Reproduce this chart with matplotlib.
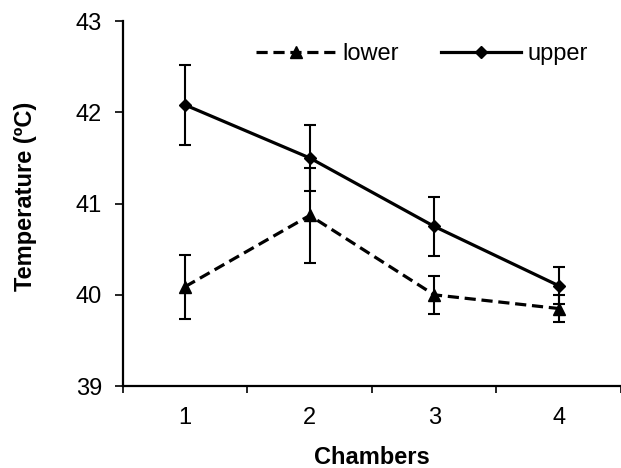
import matplotlib.pyplot as plt
from matplotlib.lines import Line2D
import numpy as np

plt.rcParams['font.family'] = ['Liberation Sans', 'DejaVu Sans']

chambers = [1, 2, 3, 4]
chamber_labels = ['1', '2', '3', '4']
lower = [40.09, 40.87, 40.00, 39.85]
lower_err = [0.35, 0.52, 0.21, 0.15]
upper = [42.08, 41.50, 40.75, 40.10]
upper_err = [0.44, 0.36, 0.32, 0.20]

size = 17
lw = 2.3
dash = (3.5, 1.8)
fig = plt.figure(figsize=(6.21, 4.68), dpi=100)
ax = fig.add_axes([0.198, 0.175, 0.802, 0.78])

ax.errorbar(chambers, lower, yerr=lower_err, color='black', linestyle='--',
            linewidth=lw, dashes=dash, marker='^', markersize=8.5,
            ecolor='black', elinewidth=1.5, capsize=4.5, capthick=1.5)
ax.errorbar(chambers, upper, yerr=upper_err, color='black', linestyle='-',
            linewidth=lw, marker='D', markersize=6.5,
            ecolor='black', elinewidth=1.5, capsize=4.5, capthick=1.5)

ax.set_xlim(0.5, 4.5)
ax.set_ylim(39, 43)
ax.set_yticks([39, 40, 41, 42, 43])
ax.tick_params(axis='y', labelsize=size, direction='out', length=6, width=1.2, pad=9)

# category boundaries get the tick marks, labels sit in between
ax.set_xticks(np.arange(0.5, 4.6, 1.0))
ax.set_xticklabels([])
ax.set_xticks(chambers, minor=True)
ax.set_xticklabels(chamber_labels, minor=True)
ax.tick_params(axis='x', which='major', direction='out', length=5, width=1.2)
ax.tick_params(axis='x', which='minor', length=0, labelsize=size, pad=15)

ax.spines['top'].set_visible(False)
ax.spines['right'].set_visible(False)
ax.spines['left'].set_linewidth(1.6)
ax.spines['bottom'].set_linewidth(1.6)

ax.set_xlabel('Chambers', fontsize=size, fontweight='bold')
ax.xaxis.set_label_coords(0.5, -0.165)
ax.set_ylabel('Temperature (ºC)', fontsize=size, fontweight='bold')
ax.yaxis.set_label_coords(-0.172, 0.52)

handles = [
    Line2D([], [], color='black', linestyle='--', dashes=dash, linewidth=lw,
           marker='^', markersize=8.5),
    Line2D([], [], color='black', linestyle='-', linewidth=lw,
           marker='D', markersize=6.5),
]
ax.legend(handles, ['lower', 'upper'], loc='center', bbox_to_anchor=(0.6, 0.91),
          ncol=2, frameon=False, fontsize=size, handlelength=3.4,
          handletextpad=0.25, columnspacing=1.8)

fig.savefig('out.png', dpi=100)
